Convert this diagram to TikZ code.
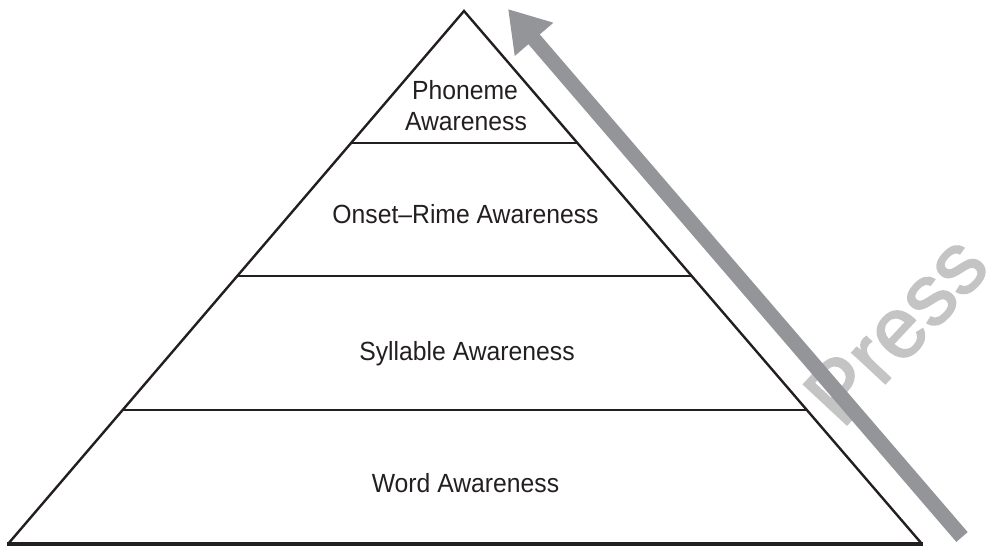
\documentclass[tikz,border=0pt]{standalone}
\usepackage{fontspec}
\setmainfont{Liberation Sans}[FakeStretch=0.94]
\newfontfamily\wmfont{Liberation Sans}[FakeBold=2]
\usetikzlibrary{arrows.meta}
\definecolor{ink}{HTML}{231F20}
\definecolor{arrowgray}{HTML}{939598}
\definecolor{wmgray}{HTML}{C4C4C4}
\begin{document}
\begin{tikzpicture}[x=1pt,y=-1pt,
  edge/.style={draw=ink,line width=2.4pt},
  label/.style={anchor=base,text=ink,font=\fontsize{26.3}{31}\selectfont,inner sep=0pt},
  bigarrow/.style={draw=arrowgray,line width=15pt,-{Triangle[length=40pt,width=48pt]}}]
\useasboundingbox (0,0) rectangle (987,549);
% watermark
\begin{scope}
\clip (0,0) rectangle (987,549);
\node[text=wmgray,font=\wmfont\fontsize{86}{86}\selectfont,rotate=47,anchor=base west,inner sep=0pt] (wm) at (842,430) {Press};
\end{scope}
% pyramid corners
\coordinate (apex) at (464,11);
\coordinate (bl) at (8,544);
\coordinate (br) at (922,544);
\coordinate (l1) at (351,143);
\coordinate (r1) at (577,143);
\coordinate (l2) at (237,276);
\coordinate (r2) at (691,276);
\coordinate (l3) at (123,410);
\coordinate (r3) at (806,410);
\draw[edge,line join=miter] (bl) -- (apex) -- (br);
\draw[edge,line width=4pt] ([xshift=-1pt]bl) -- ([xshift=1pt]br);
\draw[edge] (l1) -- (r1);
\draw[edge] (l2) -- (r2);
\draw[edge] (l3) -- (r3);
% labels
\node[label] (ph1) at (465,99) {Phoneme};
\node[label] (ph2) at (466,130) {Awareness};
\node[label] (onset) at (465.5,223) {Onset–Rime Awareness};
\node[label] (syll) at (467,360) {Syllable Awareness};
\node[label] (word) at (465.5,492) {Word Awareness};
% arrow
\coordinate (arrS) at (962,537);
\coordinate (arrE) at (508,9);
\draw[bigarrow] (arrS) -- (arrE);
\end{tikzpicture}
\end{document}
